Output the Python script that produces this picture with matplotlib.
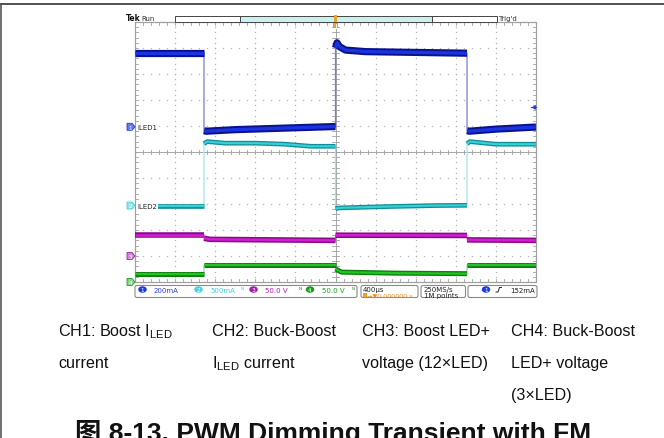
import numpy as np
import matplotlib
matplotlib.use("Agg")
import matplotlib.pyplot as plt
from matplotlib.patches import Rectangle, FancyBboxPatch, Polygon, Ellipse

plt.rcParams['font.family'] = ['Liberation Sans', 'Noto Sans CJK SC', 'DejaVu Sans']
plt.rcParams['mathtext.fontset'] = 'custom'
plt.rcParams['mathtext.rm'] = 'Liberation Sans'
plt.rcParams['mathtext.it'] = 'Liberation Sans:italic'

W, H = 664, 439

# ---------------- data (time in us, level in divisions) ----------------
ch1_t = [-2000, -1312, -1312, -1290, -1000, -500, 0, 0, 15, 40, 100, 300, 800, 1312, 1312, 1335, 1600, 2000]
ch1_v = [3.82, 3.82, 0.82, 0.80, 0.86, 0.92, 0.98, 4.0, 4.2, 4.05, 3.92, 3.86, 3.83, 3.80, 0.82, 0.80, 0.88, 0.96]

ch2_t = [-2000, -1312, -1312, -1280, -1100, -800, -500, -250, 0, 0, 40, 500, 1000, 1312, 1312, 1340, 1600, 2000]
ch2_v = [-2.08, -2.08, 0.32, 0.40, 0.34, 0.34, 0.30, 0.22, 0.22, -2.18, -2.15, -2.10, -2.06, -2.05, 0.32, 0.40, 0.30, 0.30]

ch3_t = [-2000, -1312, -1312, -1250, 0, 0, 1312, 1312, 2000]
ch3_v = [-3.20, -3.20, -3.32, -3.36, -3.40, -3.20, -3.21, -3.38, -3.40]

ch4_t = [-2000, -1312, -1312, 0, 0, 60, 600, 1312, 1312, 2000]
ch4_v = [-4.70, -4.70, -4.36, -4.36, -4.50, -4.62, -4.66, -4.68, -4.34, -4.34]

ch_ground = [0.97, -2.06, -4.0, -5.0]
ch_names = ["ILED1", "ILED2", "", ""]
scale_labels = ["200mA", "500mA", "50.0 V", "50.0 V"]
timebase = "400µs"
trig_pos = "0.000000 s"
sample_rate = ["250MS/s", "1M points"]
trig_level = "152mA"

captions = [
    ["CH1: Boost I$_{\\mathrm{LED}}$", "current"],
    ["CH2: Buck-Boost", "I$_{\\mathrm{LED}}$ current"],
    ["CH3: Boost LED+", "voltage (12×LED)"],
    ["CH4: Buck-Boost", "LED+ voltage", "(3×LED)"],
]
title = "图 8-13. PWM Dimming Transient with FM"

# colours
c_outer = ['#0a1290', '#118f99', '#8a0a8a', '#0c7f0c']
c_inner = ['#1c34e0', '#35d0d8', '#d020d0', '#22c422']
c_edge = ['#7a7ad8', '#9fe6ea', '#d890d8', '#90d890']
c_lw = [5.2, 3.4, 4.0, 3.6]
c_badge = ['#1a3be0', '#45d2e4', '#a11fa8', '#14a014']

fig = plt.figure(figsize=(W / 100, H / 100), dpi=100)

# background pixel axes
bg = fig.add_axes([0, 0, 1, 1])
bg.set_xlim(0, W); bg.set_ylim(H, 0); bg.axis('off')
bg.plot([0, W], [5, 5], color='#333333', lw=1.2)
bg.plot([1, 1], [5, H], color='#555555', lw=1.2)

# scope graticule axes
gx0, gx1, gy0, gy1 = 135, 536, 23, 283
sc = fig.add_axes([gx0 / W, 1 - gy1 / H, (gx1 - gx0) / W, (gy1 - gy0) / H])
sc.set_xlim(-2000, 2000); sc.set_ylim(-5, 5)
sc.axis('off')
gridc = '#b4b4b4'
# dotted grid
for k in range(-4, 5):
    xs = np.full(51, k * 400.0); ys = np.linspace(-5, 5, 51)
    sc.plot(xs, ys, ls='none', marker='s', ms=0.9, mew=0, color=gridc)
for k in range(-4, 5):
    ys = np.full(51, float(k)); xs = np.linspace(-2000, 2000, 51)
    sc.plot(xs, ys, ls='none', marker='s', ms=0.9, mew=0, color=gridc)
# frame and center cross
sc.plot([-2000, 2000, 2000, -2000, -2000], [-5, -5, 5, 5, -5], color='#a0a0a0', lw=0.9, clip_on=False)
sc.plot([-2000, 2000], [0, 0], color='#a8a8a8', lw=0.7)
sc.plot([0, 0], [-5, 5], color='#a8a8a8', lw=0.7)
for xx in np.linspace(-2000, 2000, 51):
    sc.plot([xx, xx], [-0.08, 0.08], color='#a0a0a0', lw=0.6)
    sc.plot([xx, xx], [5, 4.9], color='#a0a0a0', lw=0.6)
    sc.plot([xx, xx], [-5, -4.9], color='#a0a0a0', lw=0.6)
for yy in np.linspace(-5, 5, 51):
    sc.plot([-30, 30], [yy, yy], color='#a0a0a0', lw=0.6)
    sc.plot([-2000, -1975], [yy, yy], color='#a0a0a0', lw=0.6)
    sc.plot([2000, 1975], [yy, yy], color='#a0a0a0', lw=0.6)

# traces
chans = [(ch4_t, ch4_v, 3), (ch3_t, ch3_v, 2), (ch2_t, ch2_v, 1), (ch1_t, ch1_v, 0)]
for t, v, i in chans:
    t = np.array(t, float); v = np.array(v, float)
    sc.plot(t, v, color=c_edge[i], lw=0.9, zorder=3)
    cuts = [0] + [j + 1 for j in range(len(t) - 1) if t[j] == t[j + 1]] + [len(t)]
    for a, b in zip(cuts[:-1], cuts[1:]):
        sc.plot(t[a:b], v[a:b], color=c_outer[i], lw=c_lw[i], solid_capstyle='butt', zorder=4)
        sc.plot(t[a:b], v[a:b], color=c_inner[i], lw=c_lw[i] * 0.45, solid_capstyle='butt', zorder=5)

# overlay pixel axes
ov = fig.add_axes([0, 0, 1, 1], zorder=10)
ov.set_xlim(0, W); ov.set_ylim(H, 0); ov.axis('off'); ov.patch.set_alpha(0)

def ypix(div):
    return gy0 + (5 - div) / 10 * (gy1 - gy0)

# ground markers
mk_fill = ['#6a7ae8', '#8fe4ec', '#c98ad0', '#8fd08f']
for i, g in enumerate(ch_ground):
    yp = ypix(g)
    ov.add_patch(Polygon([[127, yp - 3.5], [132, yp - 3.5], [135, yp], [132, yp + 3.5], [127, yp + 3.5]],
                         closed=True, fc=mk_fill[i], ec=c_badge[i], lw=0.6))
    ov.text(130.5, yp + 0.3, str(i + 1), fontsize=4, color='white', ha='center', va='center', family='DejaVu Sans')
    if ch_names[i]:
        ov.text(137, yp + 0.3, ch_names[i], fontsize=5, color='#202020', ha='left', va='center',
                family='DejaVu Sans', bbox=dict(boxstyle='square,pad=0.1', fc='white', ec='none'))

# header
ov.text(126, 21, "Tek", fontsize=5.5, fontweight='bold', family='DejaVu Sans', ha='left', va='baseline', color='#111111')
ov.text(141, 21, "Run", fontsize=5, family='DejaVu Sans', ha='left', va='baseline', color='#333333')
ov.add_patch(Rectangle((175, 17), 322, 6, fc='white', ec='#444444', lw=0.7))
ov.add_patch(Rectangle((240, 17.5), 192, 5, fc='#c8f2f2', ec='none'))
ov.plot([240, 240], [17, 23], color='#444444', lw=0.7)
ov.plot([432, 432], [17, 23], color='#444444', lw=0.7)
ov.text(498, 21.5, "Trig'd", fontsize=5, family='DejaVu Sans', ha='left', va='baseline', color='#333333')
# trigger position marker
ov.add_patch(Rectangle((334.3, 16), 2.4, 7, fc='#f0a02a', ec='none'))
ov.add_patch(Rectangle((333.3, 24), 4.4, 5, fc='#f0a02a', ec='none'))
ov.plot([335.5, 335.5], [24.5, 28.5], color='white', lw=0.6)
# trigger level marker
ov.plot([533], [107.5], marker='<', ms=3.5, color='#2040e0', mew=0)
ov.plot([531, 536], [107.5, 107.5], color='#2040e0', lw=0.7)

# readout boxes
boxes = [(135, 357), (361, 418), (421, 465.5), (468, 537)]
for x0, x1 in boxes:
    ov.add_patch(FancyBboxPatch((x0, 286.5), x1 - x0, 12, boxstyle='round,pad=0,rounding_size=2',
                                fc='white', ec='#8a8a8a', lw=0.8))
badge_x = [142.5, 198.5, 253.5, 310]
text_x = [154, 210, 265, 322]
txt_c = ['#2a40e0', '#45cde0', '#b020b0', '#20a020']
for i in range(4):
    ov.add_patch(Ellipse((badge_x[i], 290.5), 8.5, 6.5, fc=c_badge[i], ec='none'))
    ov.text(badge_x[i], 290.8, str(i + 1), fontsize=4.2, color='white', ha='center', va='center', family='DejaVu Sans')
    ov.text(text_x[i], 290.8, scale_labels[i], fontsize=5, color=txt_c[i], ha='left', va='center', family='DejaVu Sans')
for xx, cc in zip([242, 300, 353], ['#45cde0', '#b020b0', '#20a020']):
    ov.text(xx, 290.8, "ᴺ", fontsize=5, color=cc, ha='center', va='center', family='DejaVu Sans')
ov.text(363, 290, timebase, fontsize=5, color='#222222', ha='left', va='center', family='DejaVu Sans')
ov.add_patch(Rectangle((363, 294), 3.5, 3.5, fc='#f0a02a', ec='none'))
ov.text(367, 296, "→▼" + trig_pos, fontsize=4.6, color='#e89020', ha='left', va='center', family='DejaVu Sans')
ov.text(424, 290, sample_rate[0], fontsize=5, color='#222222', ha='left', va='center', family='DejaVu Sans')
ov.text(424, 296, sample_rate[1], fontsize=5, color='#222222', ha='left', va='center', family='DejaVu Sans')
ov.add_patch(Ellipse((486, 290.5), 8.5, 6.5, fc=c_badge[0], ec='none'))
ov.text(486, 290.8, "1", fontsize=4.2, color='white', ha='center', va='center', family='DejaVu Sans')
ov.plot([496, 498, 499.5, 501.5], [293, 293, 288.5, 288.5], color='#222222', lw=0.7)
ov.text(535, 290.8, trig_level, fontsize=5, color='#222222', ha='right', va='center', family='DejaVu Sans')

# captions
cap_x = [58, 212, 362, 511]
row_y = [336, 368, 400]
for x, lines in zip(cap_x, captions):
    for r, s in enumerate(lines):
        ov.text(x, row_y[r], s, fontsize=11.6, color='#111111', ha='left', va='baseline')

ov.text(75, 441, title, fontsize=19, fontweight='bold', color='#111111', ha='left', va='baseline',
        family=['Liberation Sans', 'Noto Sans CJK SC'])

fig.savefig('out.png', dpi=100)
